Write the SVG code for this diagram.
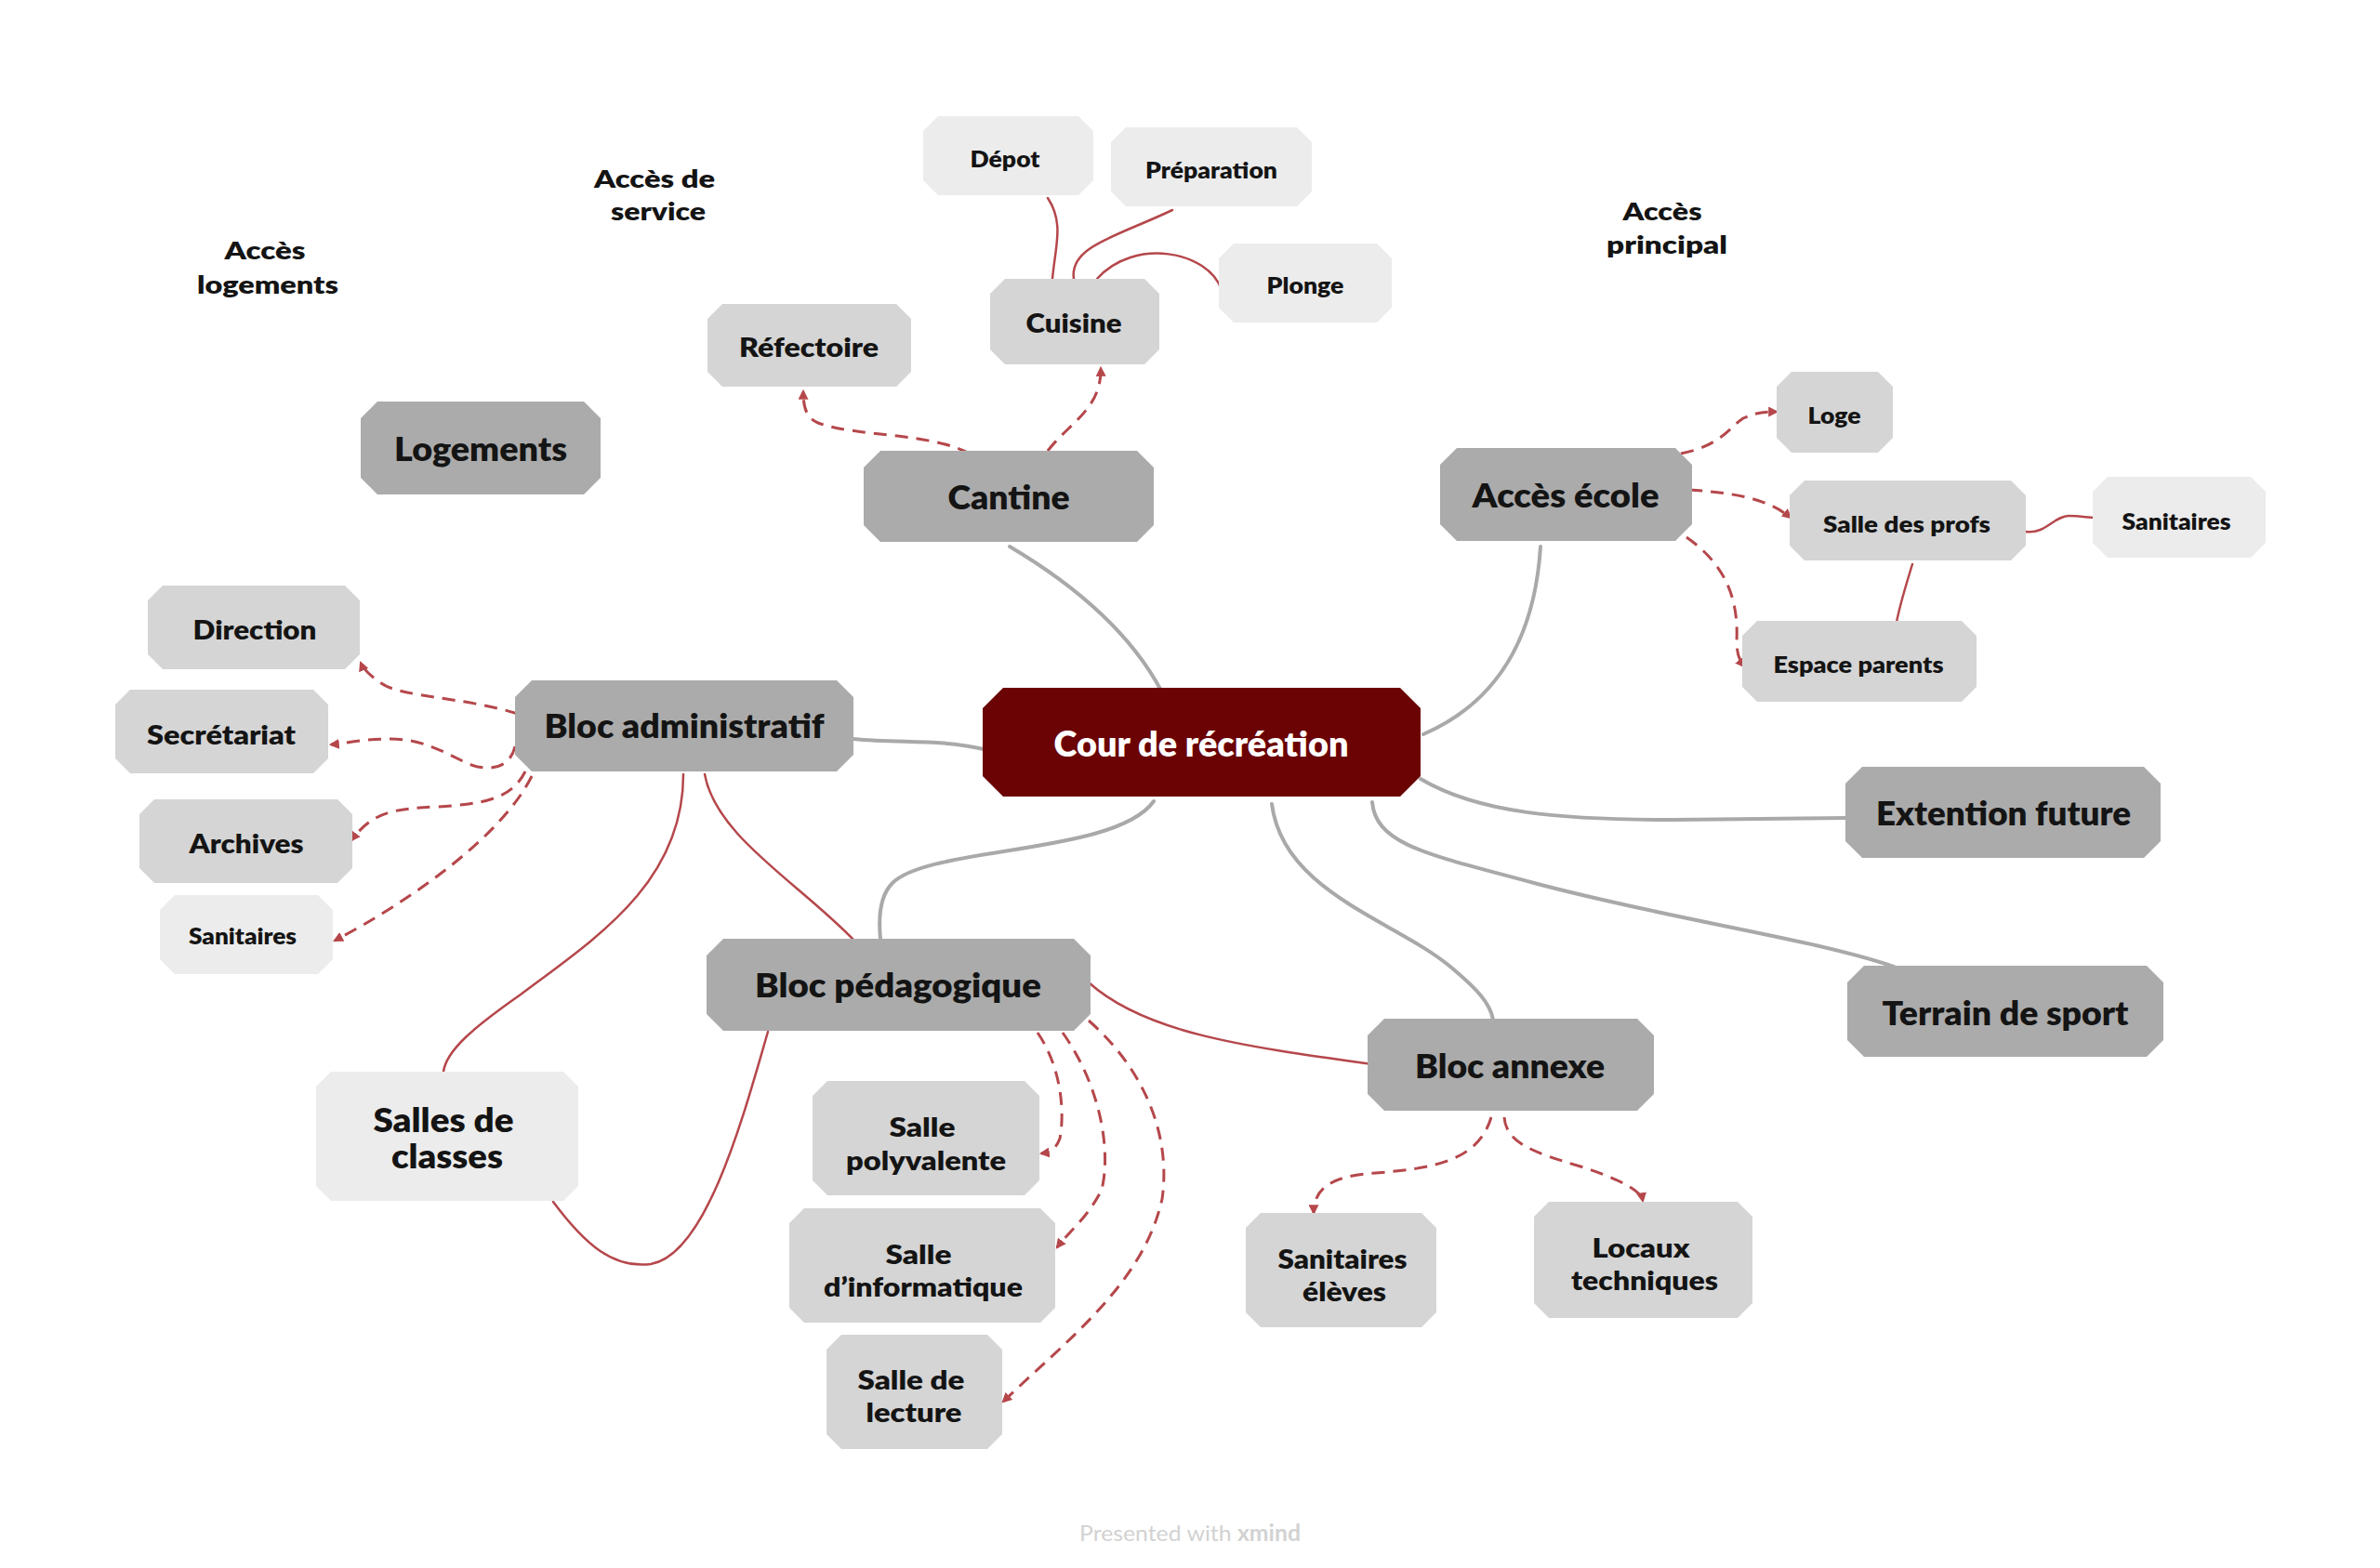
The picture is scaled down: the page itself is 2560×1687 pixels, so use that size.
<svg xmlns="http://www.w3.org/2000/svg" width="2560" height="1687" viewBox="0 0 2560 1687">
  <defs>
    <style>
      .bg { fill: #ffffff; }
      .n0 { fill: #6b0203; }
      .n1 { fill: #ababab; }
      .n2 { fill: #d5d5d5; }
      .n3 { fill: #ececec; }
      text { font-family: Lato, "Open Sans", "Liberation Sans", sans-serif; font-weight: 800; fill: #141414; text-anchor: middle; dominant-baseline: central; }
      .t0 { font-size: 38px; fill: #ffffff; }
      .t1 { font-size: 35px; }
      .t2 { font-size: 28px; }
      .t3 { font-size: 25px; }
      .lbl { font-size: 27px; }
      .foot { font-size: 24px; font-weight: 400; fill: #d2d2d2; }
      .gray { fill: none; stroke: #a9a9a9; stroke-width: 4; stroke-linecap: round; }
      .red { fill: none; stroke: #b5474b; stroke-width: 2.5; stroke-linecap: round; }
      .dash { fill: none; stroke: #b5474b; stroke-width: 3; stroke-dasharray: 14 9; marker-end: url(#arrow); }
    </style>
    <marker id="arrow" viewBox="0 0 10 10" refX="8" refY="5" markerWidth="11" markerHeight="11" markerUnits="userSpaceOnUse" orient="auto">
      <path d="M0,0 L10,5 L0,10 Z" fill="#b5474b"/>
    </marker>
  </defs>

  <rect class="bg" x="0" y="0" width="2560" height="1687"/>

  <!-- connectors -->
  <g id="connectors">
    <!-- trunk links from the central node -->
    <path class="gray" d="M1249,743 C1210,670 1140,620 1086,588"/>
    <path class="gray" d="M1531,790 C1600,760 1650,700 1657,588"/>
    <path class="gray" d="M1058,806 C1010,795 970,800 918,795"/>
    <path class="gray" d="M1528,838 C1590,875 1680,882 1800,882 L1986,880"/>
    <path class="gray" d="M1476,863 C1480,910 1540,920 1650,950 C1800,990 1950,1010 2037,1040"/>
    <path class="gray" d="M1368,865 C1380,960 1500,990 1560,1040 C1590,1065 1603,1080 1606,1097"/>
    <path class="gray" d="M1241,862 C1200,920 1000,910 960,950 C945,965 945,990 947,1010"/>

    <!-- solid relations -->
    <path class="red" d="M1132,300 C1135,265 1145,240 1127,213"/>
    <path class="red" d="M1155,300 C1150,265 1200,255 1261,226"/>
    <path class="red" d="M1180,300 C1220,255 1300,270 1314,312"/>
    <path class="red" d="M2179,572 C2200,575 2210,555 2225,555 C2240,555 2245,557 2254,557"/>
    <path class="red" d="M2057,607 C2050,630 2042,655 2039,675"/>
    <path class="red" d="M735,833 C735,950 640,1010 560,1070 C510,1105 480,1130 477,1153"/>
    <path class="red" d="M758,833 C770,900 860,950 920,1013"/>
    <path class="red" d="M595,1293 C630,1340 660,1365 700,1360 C760,1350 800,1200 826,1110"/>
    <path class="red" d="M1171,1057 C1230,1110 1330,1125 1476,1145"/>

    <!-- dashed arrows -->
    <path class="dash" d="M1127,485 C1150,455 1185,440 1184,396"/>
    <path class="dash" d="M1043,488 C1000,465 920,470 880,455 C868,450 864,440 864,421"/>
    <path class="dash" d="M1808,488 C1850,480 1860,460 1875,450 C1890,443 1900,443 1911,443"/>
    <path class="dash" d="M1817,527 C1860,530 1900,535 1926,557"/>
    <path class="dash" d="M1814,578 C1860,610 1870,650 1868,690 C1868,705 1872,712 1876,717"/>
    <path class="dash" d="M557,768 C500,750 430,750 410,735 C395,725 390,718 388,713"/>
    <path class="dash" d="M554,803 C548,830 520,830 500,820 C470,805 450,795 420,795 C390,795 370,800 356,801"/>
    <path class="dash" d="M565,830 C550,860 520,865 470,868 C420,870 400,875 378,904"/>
    <path class="dash" d="M572,835 C540,900 440,970 360,1012"/>
    <path class="dash" d="M1116,1111 C1143,1150 1145,1200 1140,1225 C1135,1238 1128,1240 1120,1241"/>
    <path class="dash" d="M1143,1111 C1185,1170 1195,1240 1185,1280 C1170,1310 1150,1325 1137,1342"/>
    <path class="dash" d="M1171,1098 C1230,1150 1260,1220 1250,1290 C1230,1380 1150,1440 1079,1508"/>
    <path class="dash" d="M1604,1202 C1590,1250 1540,1257 1480,1262 C1430,1265 1413,1280 1413,1305"/>
    <path class="dash" d="M1618,1202 C1620,1230 1650,1240 1700,1255 C1740,1268 1765,1280 1767,1292"/>
  </g>

  <!-- central topic -->
  <g id="cour">
    <path class="n0" d="M1079,740 H1506 L1528,762 V835 L1506,857 H1079 L1057,835 V762 Z"/>
    <text class="t0" x="1292" y="799" textLength="317" lengthAdjust="spacingAndGlyphs">Cour de récréation</text>
  </g>

  <!-- main topics -->
  <g id="cantine">
    <path class="n1" d="M947,485 H1223 L1241,503 V565 L1223,583 H947 L929,565 V503 Z"/>
    <text class="t1" x="1085" y="534" textLength="131" lengthAdjust="spacingAndGlyphs">Cantine</text>
  </g>
  <g id="logements">
    <path class="n1" d="M406,432 H628 L646,450 V514 L628,532 H406 L388,514 V450 Z"/>
    <text class="t1" x="517" y="482" textLength="186" lengthAdjust="spacingAndGlyphs">Logements</text>
  </g>
  <g id="acces-ecole">
    <path class="n1" d="M1567,482 H1802 L1820,500 V564 L1802,582 H1567 L1549,564 V500 Z"/>
    <text class="t1" x="1684" y="532" textLength="201" lengthAdjust="spacingAndGlyphs">Accès école</text>
  </g>
  <g id="bloc-admin">
    <path class="n1" d="M572,732 H900 L918,750 V812 L900,830 H572 L554,812 V750 Z"/>
    <text class="t1" x="736" y="780" textLength="301" lengthAdjust="spacingAndGlyphs">Bloc administratif</text>
  </g>
  <g id="bloc-peda">
    <path class="n1" d="M778,1010 H1155 L1173,1028 V1091 L1155,1109 H778 L760,1091 V1028 Z"/>
    <text class="t1" x="966" y="1059" textLength="308" lengthAdjust="spacingAndGlyphs">Bloc pédagogique</text>
  </g>
  <g id="bloc-annexe">
    <path class="n1" d="M1489,1096 H1761 L1779,1114 V1177 L1761,1195 H1489 L1471,1177 V1114 Z"/>
    <text class="t1" x="1624" y="1146" textLength="204" lengthAdjust="spacingAndGlyphs">Bloc annexe</text>
  </g>
  <g id="extention">
    <path class="n1" d="M2003,825 H2306 L2324,843 V905 L2306,923 H2003 L1985,905 V843 Z"/>
    <text class="t1" x="2155" y="874" textLength="274" lengthAdjust="spacingAndGlyphs">Extention future</text>
  </g>
  <g id="terrain">
    <path class="n1" d="M2005,1039 H2309 L2327,1057 V1119 L2309,1137 H2005 L1987,1119 V1057 Z"/>
    <text class="t1" x="2157" y="1089" textLength="265" lengthAdjust="spacingAndGlyphs">Terrain de sport</text>
  </g>

  <!-- subtopics -->
  <g id="cuisine">
    <path class="n2" d="M1081,300 H1231 L1247,316 V376 L1231,392 H1081 L1065,376 V316 Z"/>
    <text class="t2" x="1155" y="347" textLength="103" lengthAdjust="spacingAndGlyphs">Cuisine</text>
  </g>
  <g id="refectoire">
    <path class="n2" d="M777,327 H964 L980,343 V400 L964,416 H777 L761,400 V343 Z"/>
    <text class="t2" x="870" y="373" textLength="150" lengthAdjust="spacingAndGlyphs">Réfectoire</text>
  </g>
  <g id="direction">
    <path class="n2" d="M175,630 H371 L387,646 V704 L371,720 H175 L159,704 V646 Z"/>
    <text class="t2" x="274" y="677" textLength="133" lengthAdjust="spacingAndGlyphs">Direction</text>
  </g>
  <g id="secretariat">
    <path class="n2" d="M140,742 H337 L353,758 V816 L337,832 H140 L124,816 V758 Z"/>
    <text class="t2" x="238" y="790" textLength="160" lengthAdjust="spacingAndGlyphs">Secrétariat</text>
  </g>
  <g id="archives">
    <path class="n2" d="M166,860 H363 L379,876 V934 L363,950 H166 L150,934 V876 Z"/>
    <text class="t2" x="265" y="907" textLength="123" lengthAdjust="spacingAndGlyphs">Archives</text>
  </g>
  <g id="loge">
    <path class="n2" d="M1927,400 H2020 L2036,416 V471 L2020,487 H1927 L1911,471 V416 Z"/>
    <text class="t3" x="1973" y="446" textLength="57" lengthAdjust="spacingAndGlyphs">Loge</text>
  </g>
  <g id="salle-profs">
    <path class="n2" d="M1941,517 H2163 L2179,533 V587 L2163,603 H1941 L1925,587 V533 Z"/>
    <text class="t3" x="2051" y="563" textLength="180" lengthAdjust="spacingAndGlyphs">Salle des profs</text>
  </g>
  <g id="espace-parents">
    <path class="n2" d="M1890,668 H2110 L2126,684 V739 L2110,755 H1890 L1874,739 V684 Z"/>
    <text class="t3" x="1999" y="714" textLength="183" lengthAdjust="spacingAndGlyphs">Espace parents</text>
  </g>
  <g id="salle-polyvalente">
    <path class="n2" d="M890,1163 H1102 L1118,1179 V1270 L1102,1286 H890 L874,1270 V1179 Z"/>
    <text class="t2" x="992" y="1212" textLength="71" lengthAdjust="spacingAndGlyphs">Salle</text>
    <text class="t2" x="996" y="1248" textLength="172" lengthAdjust="spacingAndGlyphs">polyvalente</text>
  </g>
  <g id="salle-informatique">
    <path class="n2" d="M865,1300 H1119 L1135,1316 V1407 L1119,1423 H865 L849,1407 V1316 Z"/>
    <text class="t2" x="988" y="1349" textLength="71" lengthAdjust="spacingAndGlyphs">Salle</text>
    <text class="t2" x="993" y="1384" textLength="214" lengthAdjust="spacingAndGlyphs">d’informatique</text>
  </g>
  <g id="salle-lecture">
    <path class="n2" d="M905,1436 H1062 L1078,1452 V1543 L1062,1559 H905 L889,1543 V1452 Z"/>
    <text class="t2" x="980" y="1484" textLength="115" lengthAdjust="spacingAndGlyphs">Salle de</text>
    <text class="t2" x="983" y="1519" textLength="103" lengthAdjust="spacingAndGlyphs">lecture</text>
  </g>
  <g id="sanitaires-eleves">
    <path class="n2" d="M1356,1305 H1529 L1545,1321 V1412 L1529,1428 H1356 L1340,1412 V1321 Z"/>
    <text class="t2" x="1444" y="1354" textLength="139" lengthAdjust="spacingAndGlyphs">Sanitaires</text>
    <text class="t2" x="1446" y="1389" textLength="90" lengthAdjust="spacingAndGlyphs">élèves</text>
  </g>
  <g id="locaux-techniques">
    <path class="n2" d="M1666,1293 H1869 L1885,1309 V1402 L1869,1418 H1666 L1650,1402 V1309 Z"/>
    <text class="t2" x="1765" y="1342" textLength="105" lengthAdjust="spacingAndGlyphs">Locaux</text>
    <text class="t2" x="1769" y="1377" textLength="158" lengthAdjust="spacingAndGlyphs">techniques</text>
  </g>

  <!-- detail topics -->
  <g id="depot">
    <path class="n3" d="M1009,125 H1160 L1176,141 V194 L1160,210 H1009 L993,194 V141 Z"/>
    <text class="t3" x="1081" y="170" textLength="75" lengthAdjust="spacingAndGlyphs">Dépot</text>
  </g>
  <g id="preparation">
    <path class="n3" d="M1211,137 H1395 L1411,153 V206 L1395,222 H1211 L1195,206 V153 Z"/>
    <text class="t3" x="1303" y="182" textLength="142" lengthAdjust="spacingAndGlyphs">Préparation</text>
  </g>
  <g id="plonge">
    <path class="n3" d="M1327,262 H1481 L1497,278 V331 L1481,347 H1327 L1311,331 V278 Z"/>
    <text class="t3" x="1404" y="306" textLength="83" lengthAdjust="spacingAndGlyphs">Plonge</text>
  </g>
  <g id="sanitaires-admin">
    <path class="n3" d="M188,963 H342 L358,979 V1032 L342,1048 H188 L172,1032 V979 Z"/>
    <text class="t3" x="261" y="1006" textLength="116" lengthAdjust="spacingAndGlyphs">Sanitaires</text>
  </g>
  <g id="sanitaires-profs">
    <path class="n3" d="M2267,513 H2421 L2437,529 V584 L2421,600 H2267 L2251,584 V529 Z"/>
    <text class="t3" x="2341" y="560" textLength="117" lengthAdjust="spacingAndGlyphs">Sanitaires</text>
  </g>
  <g id="salles-classes">
    <path class="n3" d="M356,1153 H606 L622,1169 V1276 L606,1292 H356 L340,1276 V1169 Z"/>
    <text class="t1" x="477" y="1204" textLength="151" lengthAdjust="spacingAndGlyphs">Salles de</text>
    <text class="t1" x="481" y="1243" textLength="120" lengthAdjust="spacingAndGlyphs">classes</text>
  </g>

  <!-- floating labels -->
  <g id="acces-logements">
    <text class="lbl" x="285" y="268" textLength="87" lengthAdjust="spacingAndGlyphs">Accès</text>
    <text class="lbl" x="288" y="305" textLength="152" lengthAdjust="spacingAndGlyphs">logements</text>
  </g>
  <g id="acces-service">
    <text class="lbl" x="704" y="191" textLength="130" lengthAdjust="spacingAndGlyphs">Accès de</text>
    <text class="lbl" x="708" y="226" textLength="102" lengthAdjust="spacingAndGlyphs">service</text>
  </g>
  <g id="acces-principal">
    <text class="lbl" x="1788" y="226" textLength="85" lengthAdjust="spacingAndGlyphs">Accès</text>
    <text class="lbl" x="1793" y="262" textLength="130" lengthAdjust="spacingAndGlyphs">principal</text>
  </g>

  <text class="foot" x="1280" y="1648" textLength="238" lengthAdjust="spacingAndGlyphs">Presented with <tspan font-weight="700">xmind</tspan></text>
</svg>
